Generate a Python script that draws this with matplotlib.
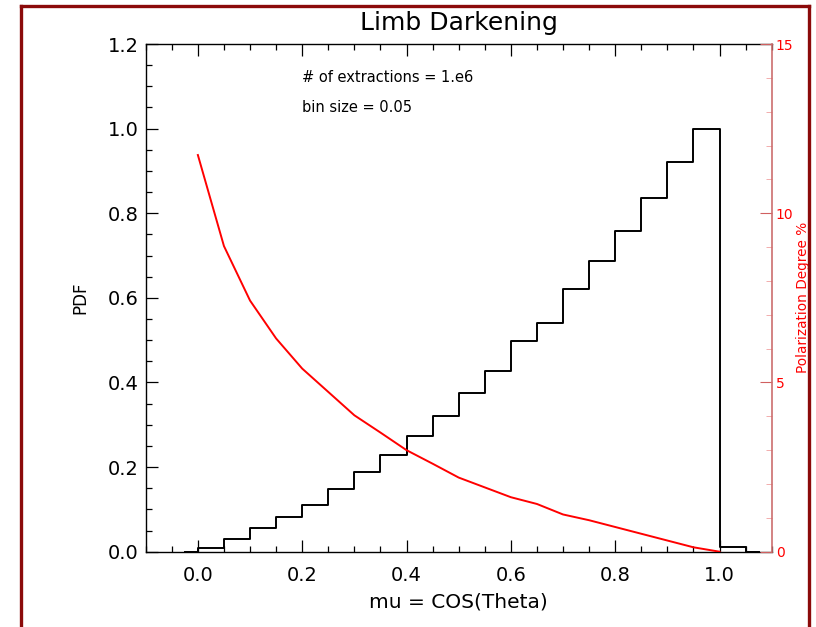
import numpy as np
import matplotlib
matplotlib.use("Agg")
import matplotlib.pyplot as plt
from matplotlib.lines import Line2D
from matplotlib.ticker import MultipleLocator

# ---- data ----
bin_centers = [-0.025, 0.025, 0.075, 0.125, 0.175, 0.225, 0.275, 0.325, 0.375,
               0.425, 0.475, 0.525, 0.575, 0.625, 0.675, 0.725, 0.775, 0.825,
               0.875, 0.925, 0.975, 1.025, 1.075]
pdf_values = [0.0, 0.0094, 0.030, 0.056, 0.083, 0.110, 0.148, 0.188, 0.228,
              0.273, 0.320, 0.374, 0.427, 0.498, 0.541, 0.620, 0.686, 0.758,
              0.837, 0.921, 1.000, 0.012, 0.0]

mu_pol = [0.0, 0.05, 0.10, 0.15, 0.20, 0.25, 0.30, 0.35, 0.40, 0.45, 0.50,
          0.55, 0.60, 0.65, 0.70, 0.75, 0.80, 0.85, 0.90, 0.95, 1.00]
pol_degree = [11.72, 9.03, 7.42, 6.30, 5.41, 4.72, 4.03, 3.52, 3.00, 2.60, 2.19,
              1.90, 1.61, 1.41, 1.10, 0.93, 0.73, 0.53, 0.33, 0.13, 0.0]

x_ticks = [0.0, 0.2, 0.4, 0.6, 0.8, 1.0]
y_ticks = [0.0, 0.2, 0.4, 0.6, 0.8, 1.0, 1.2]
y2_ticks = [0, 5, 10, 15]

W, H = 816, 627
fig = plt.figure(figsize=(W / 100, H / 100), dpi=100)
fig.patch.set_facecolor("white")

left, right, top, bottom = 145.7, 771.7, 44.0, 551.7
ax = fig.add_axes([left / W, 1 - bottom / H, (right - left) / W, (bottom - top) / H])

ax.step(bin_centers, pdf_values, where="mid", color="black", lw=1.4)
ax.set_xlim(-0.1, 1.1)
ax.set_ylim(0.0, 1.2)
ax.set_xticks(x_ticks)
ax.set_xticklabels([f"{v:.1f}" for v in x_ticks])
ax.set_yticks(y_ticks)
ax.set_yticklabels([f"{v:.1f}" for v in y_ticks])
ax.xaxis.set_minor_locator(MultipleLocator(0.05))
ax.yaxis.set_minor_locator(MultipleLocator(0.05))
ax.tick_params(which="both", direction="in", top=True, right=True, color="black", width=0.9)
ax.tick_params(which="major", length=8.5)
ax.tick_params(which="minor", length=4.3)
ax.tick_params(axis="x", which="major", labelsize=14, pad=10)
ax.tick_params(axis="y", which="major", labelsize=14, pad=5)
for s in ax.spines.values():
    s.set_linewidth(1.0)
ax.spines["right"].set_visible(False)

ax.set_xlabel("mu = COS(Theta)", fontsize=14.5, labelpad=6)
ax.set_ylabel("PDF", fontsize=12, labelpad=13)

ax2 = ax.twinx()
ax2.plot(mu_pol, pol_degree, color="red", lw=1.4)
ax2.set_ylim(0, 15)
ax2.set_yticks(y2_ticks)
ax2.set_yticklabels([str(v) for v in y2_ticks])
ax2.yaxis.set_minor_locator(MultipleLocator(1))
ax2.tick_params(axis="y", which="both", direction="in", colors="red", labelcolor="red")
ax2.tick_params(axis="y", which="major", length=8.5, color="#d06060", labelsize=10, pad=3)
ax2.tick_params(axis="y", which="minor", length=4.3, color="#f0a0a0")
for side in ["top", "bottom", "left"]:
    ax2.spines[side].set_visible(False)
ax2.spines["right"].set_color("#cc6e6e")
ax2.spines["right"].set_linewidth(1.2)
ax2.set_ylabel("Polarization Degree %", color="red", fontsize=9.8, labelpad=2)

ax.text(0.199, 1.12, "# of extractions = 1.e6", fontsize=10.5, va="center", ha="left")
ax.text(0.199, 1.05, "bin size = 0.05", fontsize=10.5, va="center", ha="left")

fig.text((left + right) / 2 / W, 1 - 23 / H, "Limb Darkening", fontsize=18,
         ha="center", va="center")

# dark red frame around the figure
bc = "#8b0a0a"
x0, x1, yt = 20.5 / W, 809.0 / W, 1 - 6.0 / H
fig.add_artist(Line2D([x0, x0], [-0.01, yt], transform=fig.transFigure, color=bc, lw=2.4))
fig.add_artist(Line2D([x1, x1], [-0.01, yt], transform=fig.transFigure, color=bc, lw=2.4))
fig.add_artist(Line2D([x0, x1], [yt, yt], transform=fig.transFigure, color=bc, lw=2.4,
                      solid_capstyle="projecting"))

fig.savefig("out.png", dpi=100)
